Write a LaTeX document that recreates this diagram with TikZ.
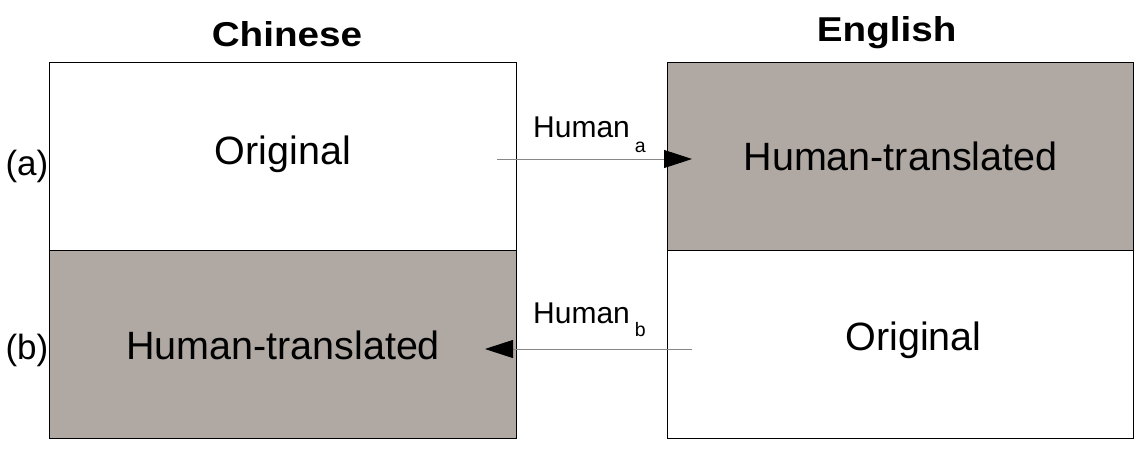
\documentclass[tikz,border=0pt]{standalone}
\usepackage{fontspec}
\setmainfont{Liberation Sans}
\newfontfamily\titlefont[FakeStretch=1.12]{Liberation Sans}
\usetikzlibrary{arrows.meta}
\definecolor{boxgray}{RGB}{175,168,163}
\definecolor{linegray}{RGB}{135,135,135}
\tikzset{
  cell/.style={draw=black, line width=1.1pt, minimum width=#1, minimum height=188pt, inner sep=0pt, anchor=north west},
  whitecell/.style={cell=#1, fill=white},
  graycell/.style={cell=#1, fill=boxgray},
  boxtext/.style={anchor=base, inner sep=0pt, font=\fontsize{39.5}{42}\selectfont},
  titletext/.style={anchor=base, inner sep=0pt, font=\titlefont\bfseries\fontsize{34.5}{38}\selectfont},
  rowtext/.style={anchor=base east, inner sep=0pt, font=\fontsize{35}{38}\selectfont},
  arrowlabel/.style={anchor=base west, inner sep=0pt, font=\fontsize{30}{32}\selectfont},
  conn/.style={draw=linegray, line width=0.9pt, -{Triangle[length=28pt,width=18pt,color=black]}}
}
\newcommand{\subl}[2]{\hspace{5pt}\raisebox{-#2}{\fontsize{19.5}{20}\selectfont #1}}
\begin{document}
\begin{tikzpicture}[x=1pt,y=-1pt]
\useasboundingbox (0,0) rectangle (1144,448);
% boxes
\node[whitecell=467pt] (lt) at (49,62) {};
\node[graycell=467pt] (lb) at (49,250) {};
\node[graycell=466pt] (rt) at (667,62) {};
\node[whitecell=466pt] (rb) at (667,250) {};
% titles
\node[titletext] (tc) at (287,46.7) {Chinese};
\node[titletext] (te) at (886.7,41.7) {English};
% box texts
\node[boxtext] (lto) at (283,164) {Original};
\node[boxtext] (lbh) at (283,359) {Human-translated};
\node[boxtext] (rth) at (900.5,170) {Human-translated};
\node[boxtext] (rbo) at (913.5,350) {Original};
% row labels
\node[rowtext] (ra) at (48.5,175) {(a)};
\node[rowtext] (rbl) at (48.5,359) {(b)};
% arrows
\coordinate (a1) at (497,159);
\coordinate (a2) at (692,159);
\coordinate (b1) at (692,349);
\coordinate (b2) at (485,349);
\draw[conn] (a1) -- (a2);
\draw[conn] (b1) -- (b2);
\node[arrowlabel] (ha) at (533,137.3) {Human\subl{a}{15.4pt}};
\node[arrowlabel] (hb) at (533,323.3) {Human\subl{b}{13.4pt}};
\end{tikzpicture}
\end{document}
